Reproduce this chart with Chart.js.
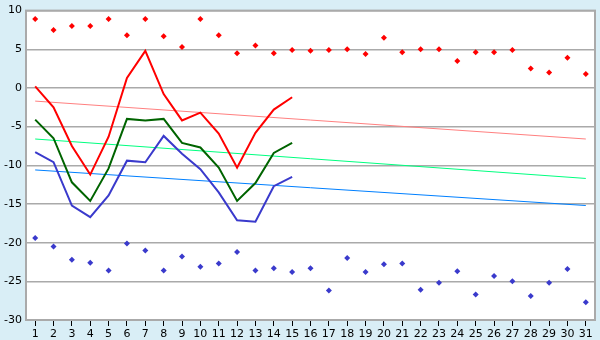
<!DOCTYPE html>
<html>
<head>
<meta charset="utf-8">
<script src="https://cdn.jsdelivr.net/npm/chart.js@4"></script>
<style>
  html, body { margin: 0; padding: 0; background: #d9eef6; }
  #wrap { width: 600px; height: 340px; }
</style>
</head>
<body>
<div id="wrap"><canvas id="chart" width="600" height="340"></canvas></div>
<script>
// days of the month
var days = ['1','2','3','4','5','6','7','8','9','10','11','12','13','14','15','16',
            '17','18','19','20','21','22','23','24','25','26','27','28','29','30','31'];

// record highs / lows (diamonds)
var recordHigh = [8.9, 7.5, 8.0, 8.0, 8.9, 6.8, 8.9, 6.7, 5.3, 8.9, 6.8, 4.5, 5.5, 4.5, 4.9, 4.8,
                  4.9, 5.0, 4.4, 6.5, 4.6, 5.0, 5.0, 3.5, 4.6, 4.6, 4.9, 2.5, 2.0, 3.9, 1.8];
var recordLow = [-19.4, -20.5, -22.2, -22.6, -23.6, -20.1, -21.0, -23.6, -21.8, -23.1, -22.7, -21.2,
                 -23.6, -23.3, -23.8, -23.3, -26.2, -22.0, -23.8, -22.8, -22.7, -26.1, -25.2, -23.7,
                 -26.7, -24.3, -25.0, -26.9, -25.2, -23.4, -27.7];

// this month so far
var maxTemp = [0.2, -2.5, -7.5, -11.2, -6.3, 1.3, 4.8, -0.8, -4.2, -3.2, -5.9, -10.3, -5.8, -2.8, -1.2];
var avgTemp = [-4.1, -6.5, -12.2, -14.6, -10.4, -4.0, -4.2, -4.0, -7.1, -7.7, -10.3, -14.6, -12.3, -8.4, -7.1];
var minTemp = [-8.3, -9.6, -15.2, -16.7, -13.9, -9.4, -9.6, -6.2, -8.5, -10.5, -13.5, -17.1, -17.3, -12.7, -11.5];

// normals (start and end of month)
var normMax = [-1.7, null, null, null, null, null, null, null, null, null, null, null, null, null, null, null,
               null, null, null, null, null, null, null, null, null, null, null, null, null, null, -6.6];
var normAvg = [-6.6, null, null, null, null, null, null, null, null, null, null, null, null, null, null, null,
               null, null, null, null, null, null, null, null, null, null, null, null, null, null, -11.7];
var normMin = [-10.6, null, null, null, null, null, null, null, null, null, null, null, null, null, null, null,
               null, null, null, null, null, null, null, null, null, null, null, null, null, null, -15.2];

var yTicks = [10, 5, 0, -5, -10, -15, -20, -25, -30];

function lineSet(data, color, width, order) {
  return {
    type: 'line', data: data, borderColor: color, backgroundColor: color,
    borderWidth: width, pointRadius: 0, spanGaps: true, tension: 0, order: order
  };
}
function dotSet(data, color) {
  return {
    type: 'line', data: data, showLine: false, pointStyle: 'rectRot', pointRadius: 3,
    borderWidth: 0, pointBackgroundColor: color, pointBorderColor: color, order: 0
  };
}

var boxPlugin = {
  id: 'box',
  beforeDraw: function (c) {
    var a = c.chartArea, ctx = c.ctx;
    ctx.save();
    ctx.fillStyle = '#d9eef6';
    ctx.fillRect(0, 0, c.width, c.height);
    ctx.fillStyle = '#ffffff';
    ctx.fillRect(a.left, a.top, a.right - a.left, a.bottom - a.top);
    ctx.restore();
  },
  afterDatasetsDraw: function (c) {
    var a = c.chartArea, ctx = c.ctx;
    ctx.save();
    ctx.strokeStyle = '#aaaaaa';
    ctx.lineWidth = 2;
    ctx.strokeRect(a.left, a.top, a.right - a.left, a.bottom - a.top);
    ctx.restore();
  }
};

Chart.defaults.font.family = '"DejaVu Sans", Verdana, sans-serif';
Chart.defaults.font.size = 11;
Chart.defaults.color = '#000000';

new Chart(document.getElementById('chart').getContext('2d'), {
  data: {
    labels: days,
    datasets: [
      dotSet(recordHigh, '#ff0000'),
      dotSet(recordLow, '#3a3acc'),
      lineSet(maxTemp, '#ff0000', 2, 1),
      lineSet(avgTemp, '#006400', 2, 1),
      lineSet(minTemp, '#3a3acc', 2, 1),
      lineSet(normMax, '#ff8080', 1, 2),
      lineSet(normAvg, '#00ff80', 1, 2),
      lineSet(normMin, '#0080ff', 1, 2)
    ]
  },
  options: {
    responsive: false,
    animation: false,
    layout: { padding: { top: 5, right: 5, left: 0, bottom: 0 } },
    plugins: { legend: { display: false }, tooltip: { enabled: false } },
    scales: {
      x: {
        offset: true,
        grid: { offset: false, drawOnChartArea: false, drawTicks: true, tickLength: 6, color: '#000000' },
        border: { display: false },
        ticks: { padding: 2, maxRotation: 0, autoSkip: false },
        afterFit: function (s) { s.height = 20; }
      },
      y: {
        min: -30, max: 10,
        afterBuildTicks: function (s) { s.ticks = yTicks.map(function (v) { return { value: v }; }); },
        grid: { color: '#aaaaaa', lineWidth: 1.5, drawTicks: false },
        border: { display: false },
        ticks: { padding: 4 },
        afterFit: function (s) { s.width = 26; }
      }
    }
  },
  plugins: [boxPlugin]
});
</script>
</body>
</html>
